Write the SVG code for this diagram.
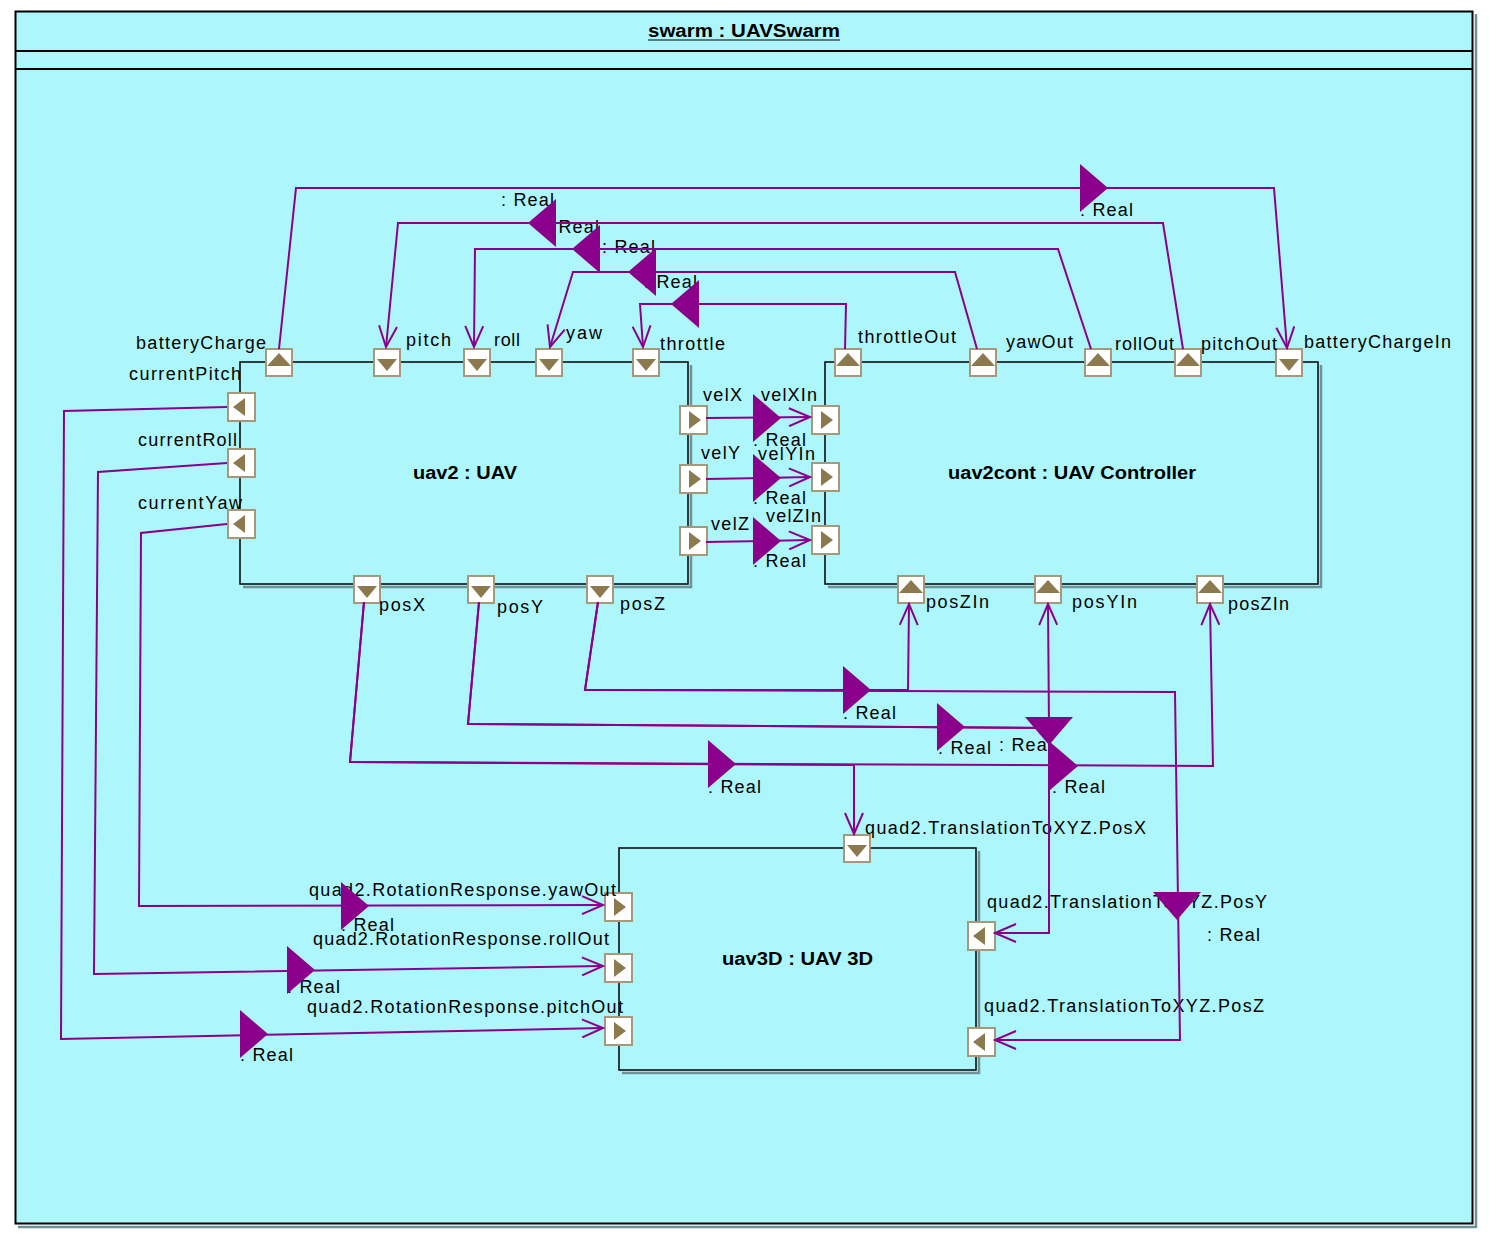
<svg xmlns="http://www.w3.org/2000/svg" width="1489" height="1238" viewBox="0 0 1489 1238">
<style>
text { font-family: "Liberation Sans", Arial, sans-serif; font-size: 18px; fill: #000; }
.b { font-weight: bold; }
.frame { fill: #ADF7FC; stroke: #000; stroke-width: 2; }
.blk { fill: #ADF7FC; stroke: #000; stroke-width: 1.5; }
.shd { fill: none; stroke: #6E9296; stroke-width: 2.5; }
.hl { stroke: #000; stroke-width: 2; }
.pb { fill: #fff; stroke: #A8987A; stroke-width: 2; }
.pt { fill: #8C7A4E; }
.c { fill: none; stroke: #8B008B; stroke-width: 2; marker-end: url(#oa); }
.tri { fill: #8B008B; }
</style>
<defs>
<marker id="oa" markerWidth="24" markerHeight="20" refX="22" refY="10" orient="auto" markerUnits="userSpaceOnUse" viewBox="0 0 24 20">
<path d="M1,1 L22,10 L1,19" fill="none" stroke="#8B008B" stroke-width="2"/>
</marker>
<g id="pu"><rect class="pb" x="-13" y="-13" width="26" height="27"/><path class="pt" d="M-12,4 L0,-9 L12,4 Z"/></g>
<g id="pd"><rect class="pb" x="-13" y="-13" width="26" height="27"/><path class="pt" d="M-10,-3 L0,9 L10,-3 Z"/></g>
<g id="pl"><rect class="pb" x="-13" y="-14" width="27" height="28"/><path class="pt" d="M4,-9 L-8,0 L4,9 Z"/></g>
<g id="pr"><rect class="pb" x="-13" y="-14" width="27" height="28"/><path class="pt" d="M-4,-9 L8,0 L-4,9 Z"/></g>
</defs>

<rect x="0" y="0" width="1489" height="1238" fill="#fff"/>

<g id="swarm">
<polyline class="shd" points="1476,14 1476,1227 18,1227"/>
<rect class="frame" x="15.5" y="11.5" width="1457" height="1212"/>
<line class="hl" x1="16" y1="51" x2="1472" y2="51"/>
<line class="hl" x1="16" y1="69" x2="1472" y2="69"/>
<text class="b" x="648" y="37" textLength="192" lengthAdjust="spacingAndGlyphs">swarm : UAVSwarm</text>
<line x1="648" y1="40" x2="840" y2="40" stroke="#000" stroke-width="1.2"/>
</g>

<g id="uav2">
<polyline class="shd" points="691,365 691,587 243,587"/>
<rect class="blk" x="240" y="362" width="448" height="222"/>
<text class="b" x="413" y="479" textLength="104" lengthAdjust="spacingAndGlyphs">uav2 : UAV</text>
<use href="#pu" x="279" y="362"/>
<use href="#pd" x="387" y="362"/>
<use href="#pd" x="477" y="362"/>
<use href="#pd" x="549" y="362"/>
<use href="#pd" x="646" y="362"/>
<use href="#pl" x="241" y="407"/>
<use href="#pl" x="241" y="463"/>
<use href="#pl" x="241" y="524"/>
<use href="#pr" x="693" y="420"/>
<use href="#pr" x="693" y="479"/>
<use href="#pr" x="693" y="541"/>
<use href="#pd" x="367" y="589"/>
<use href="#pd" x="481" y="589"/>
<use href="#pd" x="600" y="589"/>
<text x="136" y="349" textLength="130">batteryCharge</text>
<text x="406" y="346" textLength="45">pitch</text>
<text x="494" y="346" textLength="26">roll</text>
<text x="566" y="339" textLength="36">yaw</text>
<text x="660" y="350" textLength="65">throttle</text>
<text x="129" y="380" textLength="112">currentPitch</text>
<text x="138" y="446" textLength="99">currentRoll</text>
<text x="138" y="509" textLength="104">currentYaw</text>
<text x="703" y="401" textLength="39">velX</text>
<text x="701" y="459" textLength="39">velY</text>
<text x="711" y="530" textLength="38">velZ</text>
<text x="379" y="611" textLength="46">posX</text>
<text x="497" y="613" textLength="46">posY</text>
<text x="620" y="610" textLength="45">posZ</text>
</g>

<g id="uav2cont">
<polyline class="shd" points="1321,365 1321,587 828,587"/>
<rect class="blk" x="825" y="362" width="493" height="222"/>
<text class="b" x="948" y="479" textLength="248" lengthAdjust="spacingAndGlyphs">uav2cont : UAV Controller</text>
<use href="#pu" x="848" y="362"/>
<use href="#pu" x="983" y="362"/>
<use href="#pu" x="1098" y="362"/>
<use href="#pu" x="1188" y="362"/>
<use href="#pd" x="1289" y="362"/>
<use href="#pr" x="825" y="420"/>
<use href="#pr" x="825" y="477"/>
<use href="#pr" x="825" y="540"/>
<use href="#pu" x="911" y="589"/>
<use href="#pu" x="1048" y="589"/>
<use href="#pu" x="1210" y="589"/>
<text x="858" y="343" textLength="98">throttleOut</text>
<text x="1006" y="348" textLength="67">yawOut</text>
<text x="1115" y="350" textLength="59">rollOut</text>
<text x="1201" y="350" textLength="76">pitchOut</text>
<text x="1304" y="348" textLength="147">batteryChargeIn</text>
<text x="761" y="401" textLength="56">velXIn</text>
<text x="758" y="460" textLength="57">velYIn</text>
<text x="766" y="522" textLength="55">velZIn</text>
<text x="926" y="608" textLength="63">posZIn</text>
<text x="1072" y="608" textLength="65">posYIn</text>
<text x="1228" y="610" textLength="61">posZIn</text>
</g>

<g id="uav3D">
<polyline class="shd" points="979,851 979,1073 622,1073"/>
<rect class="blk" x="619" y="848" width="357" height="222"/>
<text class="b" x="722" y="965" textLength="151" lengthAdjust="spacingAndGlyphs">uav3D : UAV 3D</text>
<use href="#pd" x="857" y="848"/>
<use href="#pr" x="618" y="907"/>
<use href="#pr" x="618" y="968"/>
<use href="#pr" x="618" y="1031"/>
<use href="#pl" x="981" y="936"/>
<use href="#pl" x="981" y="1042"/>
<text x="865" y="834" textLength="281">quad2.TranslationToXYZ.PosX</text>
<text x="987" y="908" textLength="280">quad2.TranslationToXYZ.PosY</text>
<text x="984" y="1012" textLength="280">quad2.TranslationToXYZ.PosZ</text>
<text x="309" y="896" textLength="307">quad2.RotationResponse.yawOut</text>
<text x="313" y="945" textLength="296">quad2.RotationResponse.rollOut</text>
<text x="307" y="1013" textLength="316">quad2.RotationResponse.pitchOut</text>
</g>

<g id="connectors">
<g id="connector-labels">
<text x="1080" y="216" textLength="53">: Real</text>
<text x="501" y="206" textLength="53">: Real</text>
<text x="546" y="233" textLength="53">: Real</text>
<text x="602" y="253" textLength="53">: Real</text>
<text x="644" y="288" textLength="53">: Real</text>
<text x="753" y="446" textLength="53">: Real</text>
<text x="753" y="504" textLength="53">: Real</text>
<text x="753" y="567" textLength="53">: Real</text>
<text x="843" y="719" textLength="53">: Real</text>
<text x="1207" y="941" textLength="53">: Real</text>
<text x="938" y="754" textLength="53">: Real</text>
<text x="999" y="751" textLength="53">: Real</text>
<text x="1052" y="793" textLength="53">: Real</text>
<text x="708" y="793" textLength="53">: Real</text>
<text x="240" y="1061" textLength="53">: Real</text>
<text x="287" y="993" textLength="53">: Real</text>
<text x="341" y="931" textLength="53">: Real</text>
</g>
<path class="c" d="M279,349 L296,188 L1274,188 L1287,348"/>
<path class="c" d="M1183,349 L1163,223 L398,223 L386,347"/>
<path class="c" d="M1091,349 L1058,249 L475,249 L474,347"/>
<path class="c" d="M977,349 L955,272 L573,272 L550,347"/>
<path class="c" d="M845,349 L846,304 L640,304 L643,347"/>
<path class="c" d="M706,418 L810,417"/>
<path class="c" d="M706,479 L810,477"/>
<path class="c" d="M706,542 L810,540"/>
<path class="c" d="M598,602 L585,690 L908,690 L909,604"/>
<path class="c" d="M598,602 L585,690 L1175,692 L1180,1040 L995,1040"/>
<path class="c" d="M479,602 L468,724 L1049,728 L1048,604"/>
<path class="c" d="M479,602 L468,724 L1049,728 L1049,933 L995,933"/>
<path class="c" d="M364,602 L350,762 L1213,766 L1210,604"/>
<path class="c" d="M364,602 L350,762 L854,765 L854,834"/>
<path class="c" d="M227,407 L64,411 L61,1039 L603,1028"/>
<path class="c" d="M227,463 L98,472 L94,974 L603,966"/>
<path class="c" d="M227,524 L141,533 L139,906 L603,905"/>
<polygon class="tri" points="1080,164 1108,188 1080,212"/>
<polygon class="tri" points="556,199 528,223 556,247"/>
<polygon class="tri" points="600,225 572,249 600,273"/>
<polygon class="tri" points="656,248 628,272 656,296"/>
<polygon class="tri" points="699,280 671,304 699,328"/>
<polygon class="tri" points="753,394 781,418 753,442"/>
<polygon class="tri" points="753,454 781,478 753,502"/>
<polygon class="tri" points="753,517 781,541 753,565"/>
<polygon class="tri" points="843,666 871,690 843,714"/>
<polygon class="tri" points="1153,892 1177,920 1201,892"/>
<polygon class="tri" points="937,703 965,727 937,751"/>
<polygon class="tri" points="1025,717 1049,745 1073,717"/>
<polygon class="tri" points="1050,742 1078,766 1050,790"/>
<polygon class="tri" points="708,740 736,764 708,788"/>
<polygon class="tri" points="240,1010 268,1034 240,1058"/>
<polygon class="tri" points="287,946 315,970 287,994"/>
<polygon class="tri" points="341,882 369,906 341,930"/>
</g>
</svg>
